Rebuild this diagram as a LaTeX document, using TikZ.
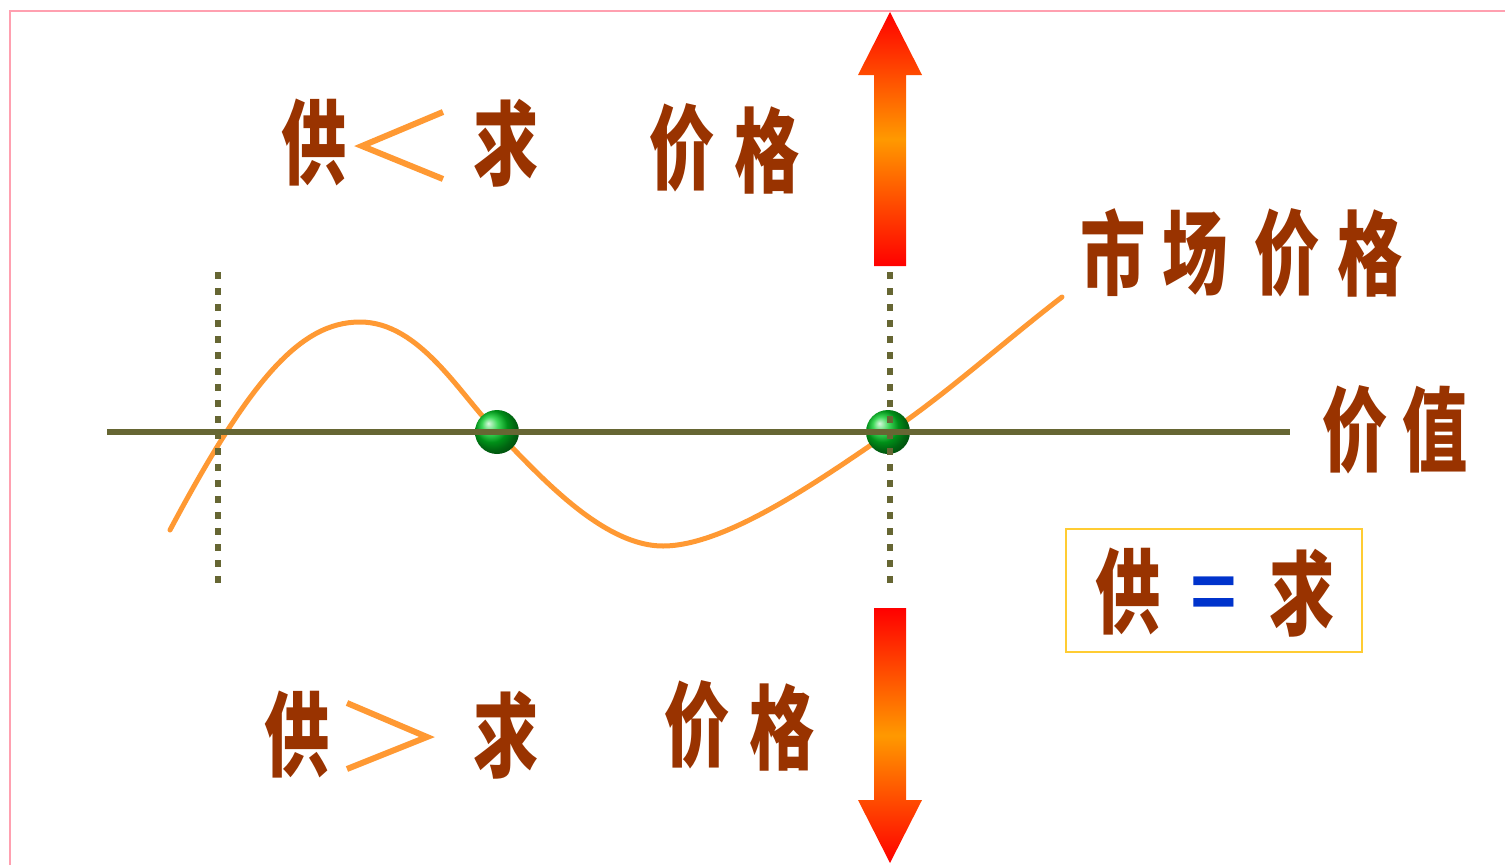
\documentclass[tikz,border=0pt]{standalone}
\usepackage{fontspec}
\newfontfamily\cjk{Noto Sans CJK SC}
\newfontfamily\lsans{Liberation Sans}
\definecolor{txtbrown}{HTML}{993300}
\definecolor{curveorange}{HTML}{FF9933}
\definecolor{axisolive}{HTML}{666633}
\definecolor{framepink}{HTML}{FFA0B0}
\definecolor{boxgold}{HTML}{FFCC33}
\definecolor{eqblue}{HTML}{0033CC}
\definecolor{ballgreen}{HTML}{00CC22}
\newcommand\zi[1]{\scalebox{0.71}[1]{#1}}
\tikzset{
  zi/.style={text=txtbrown, font=\cjk\bfseries\fontsize{92}{92}\selectfont, inner sep=0pt, anchor=center},
  ball/.style={circle, minimum size=44pt, inner sep=0pt, shading=ball, ball color=ballgreen},
  axisline/.style={draw=axisolive, line width=6pt},
  dotline/.style={draw=axisolive, line width=6.5pt, dash pattern=on 6.5pt off 9.5pt},
  curve/.style={draw=curveorange, line width=5pt, line cap=round},
  bigarrow/.style={top color=red, bottom color=red, middle color={rgb,255:red,255;green,153;blue,0}},
}
\begin{document}
\begin{tikzpicture}[x=1pt, y=-1pt]
\useasboundingbox (0,0) rectangle (1505,865);
\fill[white] (0,0) rectangle (1505,865);
% frame
\draw[framepink, line width=2pt] (10,865) -- (10,11) -- (1505,11);
% curve
\draw[curve] (170,530) .. controls (250,380) and (300,322) .. (360,322)
  .. controls (420,322) and (460,395) .. (497,432)
  .. controls (534,469) and (600,546) .. (663,546)
  .. controls (726,546) and (820,480) .. (890,432)
  .. controls (950,391) and (1000,345) .. (1062,297);
% balls
\node[ball] (b1) at (497,432) {};
\node[ball] (b2) at (888,432) {};
% axis
\coordinate (axL) at (107,432);
\coordinate (axR) at (1290,432);
\draw[axisline] (axL) -- (axR);
% dotted verticals
\coordinate (d1t) at (218,272); \coordinate (d1b) at (218,583);
\coordinate (d2t) at (890,272); \coordinate (d2b) at (890,583);
\draw[dotline] (d1t) -- (d1b);
\draw[dotline] (d2t) -- (d2b);
% arrows
\shade[bigarrow] (874,266) -- (874,75) -- (858,75) -- (890,12) -- (922,75) -- (906,75) -- (906,266) -- cycle;
\shade[bigarrow] (874,608) -- (874,800) -- (858,800) -- (890,863) -- (922,800) -- (906,800) -- (906,608) -- cycle;
% top row
\node[zi] (g1) at (314,143) {\zi{供}};
\draw[curveorange, line width=6pt] (443,112) -- (362,146) -- (443,179);
\node[zi] (q1) at (506,143) {\zi{求}};
\node[zi] (j1) at (682,148) {\zi{价}};
\node[zi] (k1) at (767,150) {\zi{格}};
% bottom row
\node[zi] (g2) at (297,735) {\zi{供}};
\draw[curveorange, line width=6pt] (347,703) -- (427,737) -- (347,769);
\node[zi] (q2) at (506,735) {\zi{求}};
\node[zi] (j2) at (697,725) {\zi{价}};
\node[zi] (k2) at (782,727) {\zi{格}};
% market price
\node[zi] (m1) at (1113,253) {\zi{市}};
\node[zi] (m2) at (1195,253) {\zi{场}};
\node[zi] (m3) at (1287,253) {\zi{价}};
\node[zi] (m4) at (1370,253) {\zi{格}};
% value
\node[zi] (v1) at (1355,430) {\zi{价}};
\node[zi] (v2) at (1435,430) {\zi{值}};
% box
\node[draw=boxgold, line width=2pt, minimum width=296pt, minimum height=123pt, inner sep=0pt] (box) at (1214,590) {};
\node[zi] (g3) at (1128,592) {\zi{供}};
\node[text=eqblue, font=\lsans\bfseries\fontsize{80}{80}\selectfont, inner sep=0pt] (eq) at (1214,598) {=};
\node[zi] (q3) at (1302,593) {\zi{求}};
\end{tikzpicture}
\end{document}
